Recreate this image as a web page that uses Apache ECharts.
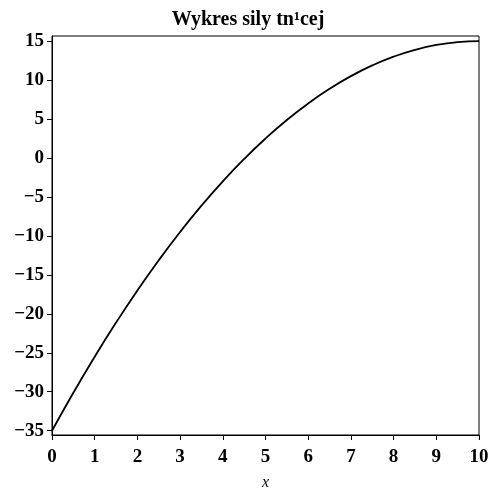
<!DOCTYPE html>
<html><head><meta charset="utf-8">
<script src="https://cdn.jsdelivr.net/npm/echarts@6/dist/echarts.min.js"></script>
<style>html,body{margin:0;padding:0;background:#fff}#c{width:496px;height:496px}</style>
</head><body><div id="c"></div>
<script>
var titleText = "Wykres sily tn\u00b9cej";
var xLabel = "x";
var xValues = [0,0.5,1,1.5,2,2.5,3,3.5,4,4.5,5,5.5,6,6.5,7,7.5,8,8.5,9,9.5,10];
var shearValues = [-35,-30.125,-25.5,-21.125,-17,-13.125,-9.5,-6.125,-3,-0.125,2.5,4.875,7,8.875,10.5,11.875,13,13.875,14.5,14.875,15];
var yTicks = [-35,-30,-25,-20,-15,-10,-5,0,5,10,15];
var xTicks = [0,1,2,3,4,5,6,7,8,9,10];

var data = xValues.map(function(x,i){return [x, shearValues[i]];});
var font = "'Liberation Serif', 'Times New Roman', serif";
function fmt(v){ return v < 0 ? "\u2212" + Math.abs(v) : String(v); }

var chart = echarts.init(document.getElementById('c'));
chart.setOption({
  animation:false,
  backgroundColor:'#fff',
  title:{text:titleText,left:'center',top:5,textStyle:{fontFamily:font,fontWeight:'bold',fontSize:20,color:'#000'}},
  grid:{left:52,right:17,top:36,bottom:60,show:true,borderColor:'#000',borderWidth:1,backgroundColor:'transparent'},
  xAxis:{type:'value',min:0,max:10,interval:1,
    name:xLabel,nameLocation:'middle',nameGap:40,
    nameTextStyle:{fontFamily:font,fontStyle:'italic',fontSize:16,color:'#000'},
    axisLine:{show:true,onZero:false,lineStyle:{color:'#000',width:1}},
    axisTick:{show:true,inside:false,length:5,lineStyle:{color:'#000'},customValues:xTicks},
    axisLabel:{show:true,margin:13,fontFamily:font,fontWeight:'bold',fontSize:19,color:'#000',customValues:xTicks,formatter:fmt},
    splitLine:{show:false}},
  yAxis:{type:'value',min:-35.55,max:15.65,
    axisLine:{show:true,onZero:false,lineStyle:{color:'#000',width:1}},
    axisTick:{show:true,inside:false,length:5,lineStyle:{color:'#000'},customValues:yTicks},
    axisLabel:{show:true,margin:8,fontFamily:font,fontWeight:'bold',fontSize:19,color:'#000',customValues:yTicks,formatter:fmt},
    splitLine:{show:false}},
  series:[{type:'line',data:data,showSymbol:false,smooth:true,lineStyle:{color:'#000',width:1.8},clip:true}]
});
</script></body></html>
